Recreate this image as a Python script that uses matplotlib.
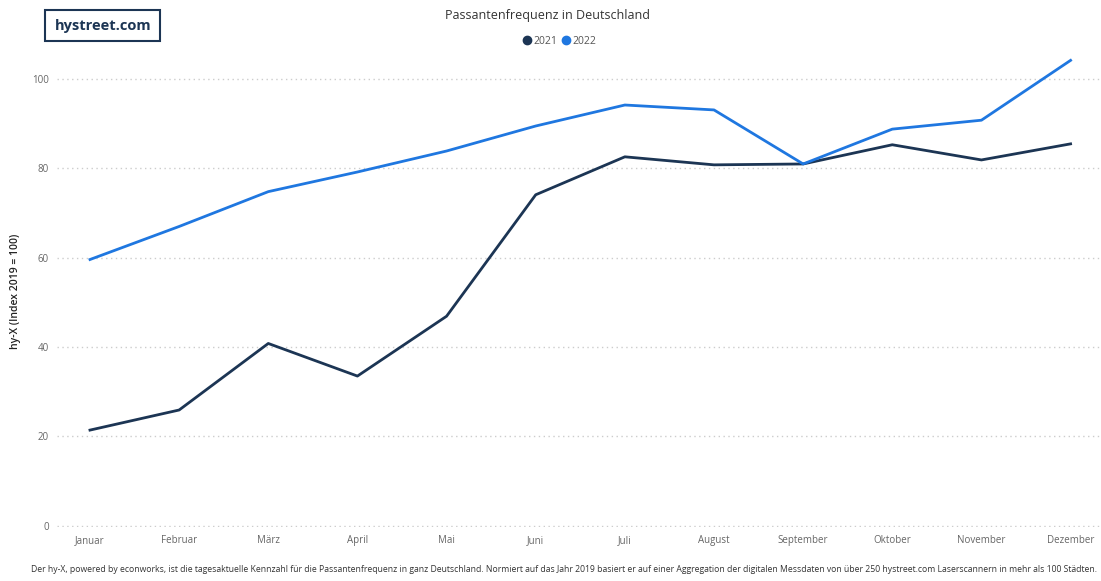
import matplotlib
matplotlib.use("Agg")
import matplotlib.pyplot as plt
from matplotlib.patches import FancyBboxPatch

months = ["Januar", "Februar", "März", "April", "Mai", "Juni", "Juli",
          "August", "September", "Oktober", "November", "Dezember"]
hyx_2021 = [21.4, 25.9, 40.8, 33.5, 46.9, 74.1, 82.6, 80.8, 81.0, 85.3, 81.9, 85.5]
hyx_2022 = [59.6, 67.0, 74.8, 79.2, 83.9, 89.5, 94.2, 93.1, 81.0, 88.8, 90.8, 104.2]
y_ticks = [0, 20, 40, 60, 80, 100]

c2021 = "#1c3554"
c2022 = "#1f77e0"

plt.rcParams['font.family'] = ['Open Sans', 'DejaVu Sans']

fig = plt.figure(figsize=(11.01, 5.81), dpi=100)
ax = fig.add_axes([57 / 1101, 54 / 581, 1043 / 1101, 472 / 581])

x = range(len(months))
ax.plot(x, hyx_2021, color=c2021, linewidth=2.0, label="2021", zorder=3)
ax.plot(x, hyx_2022, color=c2022, linewidth=2.0, label="2022", zorder=3)

ax.set_xlim(-0.37, 11.33)
ax.set_ylim(-0.3, 105.4)
ax.set_yticks(y_ticks)
ax.set_xticks(list(x))
ax.set_xticklabels(months)
ax.tick_params(axis="both", length=0, labelsize=7, labelcolor="#666666")
ax.tick_params(axis="x", pad=6)
ax.tick_params(axis="y", pad=6)
ax.grid(axis="y", color="#cccccc", linestyle=(0, (1, 2.5)), linewidth=1)
for s in ax.spines.values():
    s.set_visible(False)

ax.set_ylabel("hy-X (Index 2019 = 100)", fontsize=7.5, color="#222222",
              fontweight="semibold", labelpad=8)

fig.text(0.4975, 0.974, "Passantenfrequenz in Deutschland", ha="center", va="center",
         fontsize=9, color="#333333")

# legend
fig.legend(handles=ax.get_lines(), loc="center", bbox_to_anchor=(560 / 1101, 1 - 41 / 581),
           ncol=2, frameon=False, fontsize=7.5, handlelength=0.6, handletextpad=0.3,
           columnspacing=0.6, labelcolor="#555555")
leg = fig.legends[0]
for h, c in zip(leg.legend_handles, [c2021, c2022]):
    h.set_linestyle("None")
    h.set_marker("o")
    h.set_markersize(6)
    h.set_color(c)

# logo box
box = FancyBboxPatch((45 / 1101, 1 - 41 / 581), 115 / 1101, 31 / 581,
                     boxstyle="square,pad=0", transform=fig.transFigure,
                     fill=False, edgecolor="#1c3554", linewidth=1.5)
fig.patches.append(box)
fig.text(103 / 1101, 1 - 26 / 581, "hystreet.com", ha="center", va="center",
         fontsize=10.5, fontweight="bold", color="#1c3554")

fig.text(564 / 1101, 1 - 570 / 581,
         "Der hy-X, powered by econworks, ist die tagesaktuelle Kennzahl für die Passantenfrequenz in ganz Deutschland. "
         "Normiert auf das Jahr 2019 basiert er auf einer Aggregation der digitalen Messdaten von über 250 hystreet.com "
         "Laserscannern in mehr als 100 Städten.",
         ha="center", va="center", fontsize=6.2, color="#333333")

fig.savefig("out.png", dpi=100)
